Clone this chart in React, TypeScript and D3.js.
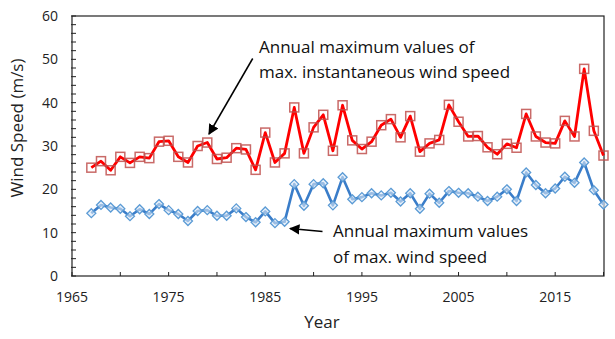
import React from "react";
import * as d3 from "d3";

const years: number[] = d3.range(1967, 2021);
const instantaneous: number[] = [
  25, 26.5, 24.4, 27.5, 26.1, 27.5, 27.2, 31, 31.2, 27.5,
  26.2, 30, 30.8, 27, 27.3, 29.5, 29.2, 24.5, 33.1, 26.2,
  28.3, 38.9, 28.3, 34.3, 37.2, 28.9, 39.4, 31.3, 29.3, 31,
  34.8, 36.2, 32, 36.9, 28.7, 30.6, 31.4, 39.5, 35.6, 32.2,
  32.3, 29.7, 28.1, 30.5, 29.6, 37.4, 32.2, 30.8, 30.6, 35.8,
  32.2, 47.8, 33.5, 27.8,
];
const maxWind: number[] = [
  14.5, 16.4, 15.8, 15.5, 13.8, 15.4, 14.3, 16.6, 15.2, 14.3,
  12.7, 15.0, 15.2, 13.9, 13.9, 15.6, 13.6, 12.4, 14.9, 12.2,
  12.5, 21.2, 16.2, 21.2, 21.4, 16.3, 22.8, 17.7, 18.2, 19.1,
  18.6, 19.2, 17.2, 19.1, 15.5, 19.0, 16.9, 19.6, 19.2, 19.1,
  18.3, 17.3, 18.3, 20, 17.3, 23.9, 21, 19.1, 20.2, 22.9,
  21.5, 26.2, 19.8, 16.5,
];
const xTickLabels: number[] = [1965, 1975, 1985, 1995, 2005, 2015];
const yTickLabels: number[] = [0, 10, 20, 30, 40, 50, 60];
const upperNote: string[] = ["Annual maximum values of", "max. instantaneous wind speed"];
const lowerNote: string[] = ["Annual maximum values", "of max. wind speed"];

const FONT = "'Open Sans', sans-serif";

export default function App() {
  const W = 615, H = 339;
  const left = 72, right = 604, top = 16, bottom = 276;
  const x = d3.scaleLinear().domain([1965, 2020]).range([left, 603.5]);
  const y = d3.scaleLinear().domain([0, 60]).range([bottom, top]);

  const line = d3
    .line<number>()
    .x((_, i) => x(years[i]))
    .y((d) => y(d));

  const minorY = d3.range(0, 61, 2);
  const minorX = d3.range(1965, 2021, 5);

  return (
    <svg width={W} height={H} style={{ position: "absolute", left: 0, top: 0, background: "#fff" }}>
      <defs>
        <marker id="ah" viewBox="0 0 10 10" refX="9" refY="5" markerWidth="7" markerHeight="7" orient="auto-start-reverse">
          <path d="M0,0 L10,5 L0,10 z" fill="#000" />
        </marker>
      </defs>
      <rect x={0} y={0} width={W} height={H} fill="#fff" />
      <rect x={left} y={top} width={right - left} height={bottom - top} fill="none" stroke="#222" strokeWidth={1.2} />
      {minorY.map((v) => (
        <line key={"yt" + v} x1={left - 1} x2={left + 4} y1={y(v)} y2={y(v)} stroke="#222" strokeWidth={1} />
      ))}
      {minorX.map((v) => (
        <line key={"xt" + v} x1={x(v)} x2={x(v)} y1={bottom} y2={bottom - 4} stroke="#222" strokeWidth={1} />
      ))}
      {yTickLabels.map((v) => (
        <text key={"yl" + v} x={58} y={y(v)} dy="0.35em" textAnchor="end" fontFamily={FONT} fontSize={14} fill="#222">
          {v}
        </text>
      ))}
      {xTickLabels.map((v) => (
        <text key={"xl" + v} x={x(v)} y={297} dy="0.35em" textAnchor="middle" fontFamily={FONT} fontSize={14} fill="#222">
          {v}
        </text>
      ))}
      <text x={322} y={322} dy="0.35em" textAnchor="middle" fontFamily={FONT} fontSize={17} fill="#222">
        Year
      </text>
      <text
        transform={`translate(17,128) rotate(-90)`}
        textAnchor="middle"
        dy="0.35em"
        fontFamily={FONT}
        fontSize={17}
        fill="#222"
      >
        Wind Speed (m/s)
      </text>

      <path d={line(maxWind) || ""} fill="none" stroke="#3a7dc9" strokeWidth={2.6} strokeLinejoin="round" />
      {maxWind.map((v, i) => {
        const cx = x(years[i]);
        const cy = y(v);
        const r = 4.5;
        return (
          <path
            key={"b" + i}
            d={`M${cx},${cy - r} L${cx + r},${cy} L${cx},${cy + r} L${cx - r},${cy} Z`}
            fill="#dbe8f7"
            fillOpacity={0.6}
            stroke="#5b9bd5"
            strokeWidth={1.3}
          />
        );
      })}

      <path d={line(instantaneous) || ""} fill="none" stroke="#ff0000" strokeWidth={2.8} strokeLinejoin="round" />
      {instantaneous.map((v, i) => {
        const cx = x(years[i]);
        const cy = y(v);
        const s = 9;
        return (
          <rect
            key={"r" + i}
            x={cx - s / 2}
            y={cy - s / 2}
            width={s}
            height={s}
            fill="none"
            stroke="#c0504d"
            strokeOpacity={0.85}
            strokeWidth={1.5}
          />
        );
      })}

      {upperNote.map((t, i) => (
        <text key={"u" + i} x={259} y={47 + i * 25} dy="0.35em" fontFamily={FONT} fontSize={17} fill="#111">
          {t}
        </text>
      ))}
      <line x1={252.7} y1={58.5} x2={209} y2={134} stroke="#000" strokeWidth={1.5} markerEnd="url(#ah)" />
      {lowerNote.map((t, i) => (
        <text key={"l" + i} x={333} y={231 + i * 26} dy="0.35em" fontFamily={FONT} fontSize={17} fill="#111">
          {t}
        </text>
      ))}
      <line x1={322.5} y1={231.5} x2={290} y2={228.5} stroke="#000" strokeWidth={1.5} markerEnd="url(#ah)" />
    </svg>
  );
}
